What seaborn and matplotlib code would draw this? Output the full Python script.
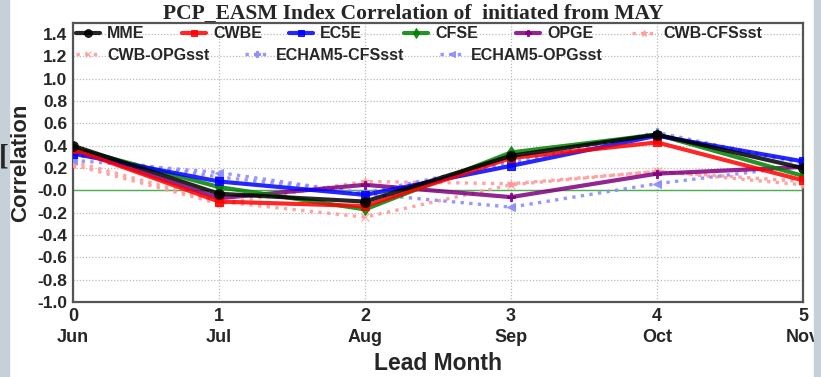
import matplotlib
matplotlib.use("Agg")
import matplotlib.pyplot as plt
import seaborn as sns
import numpy as np
import pandas as pd
from matplotlib.patches import Rectangle

# ---------------- data ----------------
lead = [0, 1, 2, 3, 4, 5]
months = ["Jun", "Jul", "Aug", "Sep", "Oct", "Nov"]
tick_labels = [f"{l}\n{m}" for l, m in zip(lead, months)]

mme = [0.40, -0.03, -0.10, 0.31, 0.50, 0.20]
cwbe = [0.37, -0.10, -0.14, 0.29, 0.43, 0.09]
ec5e = [0.33, 0.08, -0.04, 0.22, 0.49, 0.26]
cfse = [0.38, 0.03, -0.17, 0.34, 0.50, 0.13]
opge = [0.37, -0.07, 0.05, -0.06, 0.15, 0.21]
cwb_cfssst = [0.23, -0.12, 0.08, 0.06, 0.17, 0.05]
cwb_opgsst = [0.26, -0.10, -0.24, 0.05, 0.17, 0.08]
echam5_cfssst = [0.32, 0.12, -0.02, 0.25, 0.52, 0.24]
echam5_opgsst = [0.27, 0.16, -0.03, -0.15, 0.06, 0.22]

series_names = ["MME", "CWBE", "EC5E", "CFSE", "OPGE", "CWB-CFSsst",
                "CWB-OPGsst", "ECHAM5-CFSsst", "ECHAM5-OPGsst"]
series_vals = [mme, cwbe, ec5e, cfse, opge, cwb_cfssst,
               cwb_opgsst, echam5_cfssst, echam5_opgsst]

# ---------------- style ----------------
colors = ["#000000", "#ff0000", "#0000ff", "#008000", "#800080",
          "#ff9a9a", "#ff9a9a", "#8c8cff", "#8c8cff"]
markers = ["o", "s", "s", "d", "P", "*", "x", "P", "<"]
dotted = (0, (1, 1.6))
styles = ["-", "-", "-", "-", "-", dotted, dotted, dotted, dotted]
widths = [3.0, 3.0, 3.0, 3.0, 3.0, 2.4, 2.4, 2.4, 2.4]
msizes = [7, 6, 6, 6, 6, 6, 6, 6, 6]

sns.set_theme(style="white")
plt.rcParams["font.family"] = ["Liberation Sans", "DejaVu Sans"]
plt.rcParams["font.weight"] = "bold"

fig = plt.figure(figsize=(8.21, 3.77), dpi=100)
fig.patch.set_facecolor("white")
ax = fig.add_axes([73 / 821, 1 - 302 / 377, 730 / 821, 279 / 377])

# side strips
fig.patches.append(Rectangle((0, 0), 9 / 821, 1, transform=fig.transFigure,
                             color="#c6d0d8", zorder=0))
fig.patches.append(Rectangle((814 / 821, 0), 7 / 821, 1, transform=fig.transFigure,
                             color="#c6d0d8", zorder=0))

df = pd.DataFrame({"lead": lead})
for name, vals in zip(series_names, series_vals):
    df[name] = vals

ax.axhline(0, color="#4caf50", lw=1.0, zorder=1)

order = [5, 6, 7, 8, 4, 3, 1, 2, 0]
for i in order:
    name = series_names[i]
    sns.lineplot(data=df, x="lead", y=name, ax=ax, color=colors[i],
                 linestyle=styles[i], linewidth=widths[i], marker=markers[i],
                 markersize=msizes[i], markeredgecolor=colors[i],
                 alpha=0.85 if i < 5 else 0.9, zorder=3 + (5 - i if i < 5 else 0))
lines = ax.get_lines()[1:]
line_by_name = {series_names[i]: ln for i, ln in zip(order, lines)}

ax.set_xlim(0, 5)
ax.set_ylim(-1.0, 1.5)
ax.set_xticks(lead)
ax.set_xticklabels(tick_labels, fontsize=13, fontweight="bold", linespacing=1.35)
yt = np.round(np.arange(-1.0, 1.41, 0.2), 1)
ax.set_yticks(yt)
ax.set_yticklabels([f"{v:.1f}" for v in yt], fontsize=12.5, fontweight="bold")
ax.tick_params(axis="both", direction="out", length=3, width=1, color="#555555", pad=1)
ax.grid(True, color="#bbbbbb", linestyle=(0, (1, 1.5)), linewidth=0.9)
for s in ax.spines.values():
    s.set_color("#555555")
    s.set_linewidth(1.6)
ax.set_xlabel("")
ax.set_ylabel("")

# legend entries positioned individually
leg_pos = {
    "MME": (76, 34), "CWBE": (182, 34), "EC5E": (289, 34), "CFSE": (404, 34),
    "OPGE": (516, 34), "CWB-CFSsst": (632, 34),
    "CWB-OPGsst": (76, 55), "ECHAM5-CFSsst": (245, 55), "ECHAM5-OPGsst": (440, 55),
}
legends = []
for name in series_names:
    px, py = leg_pos[name]
    ln = line_by_name[name]
    lg = ax.legend([ln], [name], loc="center left",
                   bbox_to_anchor=((px - 73) / 730, (302 - py) / 279),
                   frameon=False, borderpad=0, borderaxespad=0,
                   handlelength=1.5, handletextpad=0.45, markerscale=0.8,
                   prop={"family": "Liberation Sans", "weight": "bold", "size": 11.5})
    legends.append(lg)
ax.legend_ = None
for lg in legends:
    ax.add_artist(lg)

fig.text(413 / 821, 1 - 14 / 377, "PCP_EASM Index Correlation of  initiated from MAY",
         ha="center", va="center", fontsize=15.5, fontweight="bold",
         family=["Liberation Serif", "DejaVu Serif"])
fig.text(21 / 821, 1 - 163 / 377, "Correlation", rotation=90, ha="center", va="center",
         fontsize=16, fontweight="bold")
fig.text(438 / 821, 1 - 363 / 377, "Lead Month", ha="center", va="center",
         fontsize=16.5, fontweight="bold")
fig.text(4 / 821, 1 - 157 / 377, "[", ha="center", va="center", fontsize=21,
         fontweight="bold", family=["Liberation Serif", "DejaVu Serif"])

fig.savefig("out.png", dpi=100, facecolor="white")
